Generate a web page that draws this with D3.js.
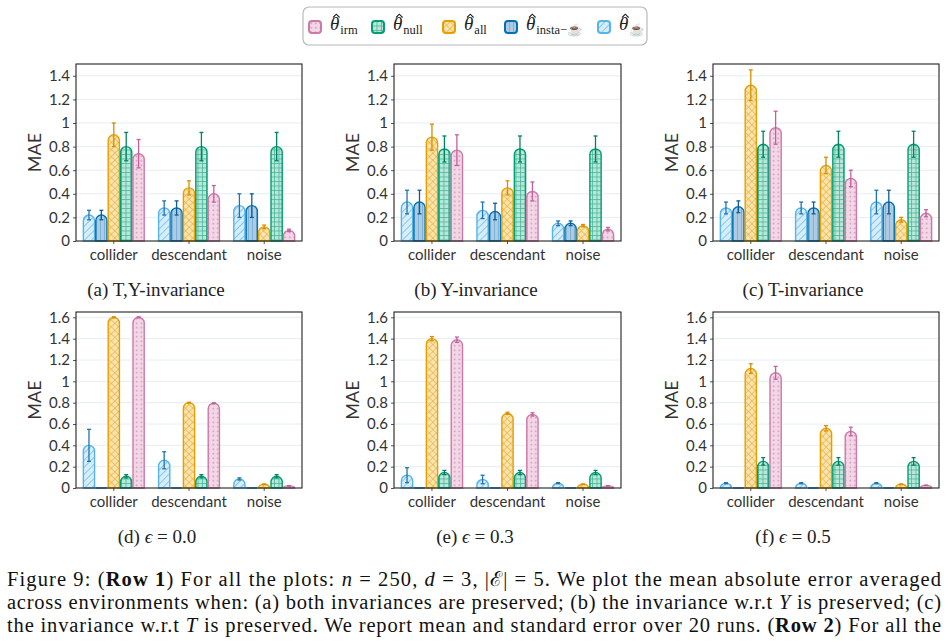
<!DOCTYPE html>
<html>
<head>
<meta charset="utf-8">
<script src="https://cdn.jsdelivr.net/npm/d3@7"></script>
<style>
  body { margin: 0; background: #fff; }
  svg { display: block; }
</style>
</head>
<body>
<svg id="fig" width="948" height="644"></svg>
<script>
// ---- data ----
const groups = ["collider", "descendant", "noise"];
// bar order inside a group (left to right)
const seriesKeys = ["cup", "insta", "all", "null", "irm"];
const legendKeys = ["irm", "null", "all", "insta", "cup"];
const seriesSub = ["\u2615", "insta\u2212\u2615", "all", "null", "irm"];

// rows follow seriesKeys, columns follow groups
const meanA = [[0.22, 0.28, 0.30], [0.22, 0.28, 0.30], [0.90, 0.45, 0.12], [0.80, 0.80, 0.80], [0.74, 0.40, 0.09]];
const errA  = [[0.04, 0.06, 0.10], [0.04, 0.06, 0.10], [0.10, 0.06, 0.015], [0.12, 0.12, 0.12], [0.12, 0.07, 0.01]];
const meanB = [[0.33, 0.26, 0.15], [0.33, 0.25, 0.15], [0.88, 0.45, 0.13], [0.78, 0.78, 0.78], [0.77, 0.42, 0.10]];
const errB  = [[0.10, 0.07, 0.02], [0.10, 0.07, 0.02], [0.11, 0.06, 0.01], [0.11, 0.11, 0.11], [0.13, 0.08, 0.015]];
const meanC = [[0.28, 0.28, 0.33], [0.29, 0.28, 0.33], [1.32, 0.64, 0.18], [0.82, 0.82, 0.82], [0.96, 0.53, 0.235]];
const errC  = [[0.05, 0.05, 0.10], [0.05, 0.05, 0.10], [0.13, 0.07, 0.02], [0.11, 0.11, 0.11], [0.14, 0.07, 0.03]];
const meanD = [[0.40, 0.26, 0.085], [0, 0, 0], [1.60, 0.80, 0.035], [0.11, 0.11, 0.11], [1.60, 0.795, 0.02]];
const errD  = [[0.15, 0.08, 0.01], [0, 0, 0], [0.005, 0.004, 0.002], [0.015, 0.015, 0.015], [0.005, 0.004, 0.002]];
const meanE = [[0.12, 0.08, 0.045], [0, 0, 0], [1.40, 0.70, 0.035], [0.145, 0.145, 0.145], [1.39, 0.69, 0.02]];
const errE  = [[0.07, 0.04, 0.005], [0, 0, 0], [0.02, 0.01, 0.002], [0.02, 0.02, 0.02], [0.025, 0.015, 0.002]];
const meanF = [[0.045, 0.045, 0.045], [0, 0, 0], [1.12, 0.56, 0.035], [0.25, 0.25, 0.25], [1.08, 0.53, 0.025]];
const errF  = [[0.005, 0.005, 0.005], [0, 0, 0], [0.045, 0.025, 0.002], [0.035, 0.035, 0.035], [0.06, 0.04, 0.002]];

const panelTitles = ["(a) T,Y-invariance", "(b) Y-invariance", "(c) T-invariance",
                     "(d) \u03f5 = 0.0", "(e) \u03f5 = 0.3", "(f) \u03f5 = 0.5"];
const rowMax = [1.5, 1.65];

// ---- styles ----
const strokeCol = {cup: "#56B4E9", insta: "#0072B2", all: "#E69F00", null: "#009E73", irm: "#CC79A7"};
const fillCol   = {cup: "#d7edfa", insta: "#aecbe3", all: "#fae4b5", null: "#bde5d9", irm: "#f2d8e7"};
const errCol    = {cup: "#1f74b4", insta: "#0a5f96", all: "#d68f00", null: "#00845f", irm: "#c2619a"};
const sansFont = "Lato, 'Open Sans', sans-serif";
const serifFont = "'Liberation Serif', 'DejaVu Serif', serif";

const svg = d3.select("#fig");
const defs = svg.append("defs");

function makePatterns() {
    seriesKeys.forEach(k => {
        let p = defs.append("pattern").attr("id", "pat-" + k)
            .attr("patternUnits", "userSpaceOnUse");
        let s = strokeCol[k];
        if (k === "cup") {
            p.attr("width", 5).attr("height", 5).attr("patternTransform", "rotate(45)");
            p.append("rect").attr("width", 5).attr("height", 5).attr("fill", fillCol[k]);
            p.append("line").attr("x1", 0.5).attr("x2", 0.5).attr("y1", 0).attr("y2", 5)
                .attr("stroke", s).attr("stroke-width", 0.8).attr("opacity", 0.8);
        } else if (k === "insta") {
            p.attr("width", 4).attr("height", 4);
            p.append("rect").attr("width", 4).attr("height", 4).attr("fill", fillCol[k]);
            p.append("line").attr("x1", 0.5).attr("x2", 0.5).attr("y1", 0).attr("y2", 4)
                .attr("stroke", s).attr("stroke-width", 0.6).attr("opacity", 0.45);
        } else if (k === "all") {
            p.attr("width", 5).attr("height", 5).attr("patternTransform", "rotate(45)");
            p.append("rect").attr("width", 5).attr("height", 5).attr("fill", fillCol[k]);
            p.append("path").attr("d", "M0.5,0V5M0,0.5H5")
                .attr("stroke", s).attr("stroke-width", 0.7).attr("opacity", 0.7);
        } else if (k === "null") {
            p.attr("width", 4.5).attr("height", 4.5);
            p.append("rect").attr("width", 4.5).attr("height", 4.5).attr("fill", fillCol[k]);
            p.append("path").attr("d", "M0.5,0V4.5M0,0.5H4.5")
                .attr("stroke", s).attr("stroke-width", 0.7).attr("opacity", 0.7);
        } else {
            p.attr("width", 4.5).attr("height", 4.5);
            p.append("rect").attr("width", 4.5).attr("height", 4.5).attr("fill", fillCol[k]);
            p.append("circle").attr("cx", 2.25).attr("cy", 2.25).attr("r", 0.9)
                .attr("fill", s).attr("opacity", 0.75);
        }
    });
}

// bar with a rounded top
function barPath(x, w, y0, yTop) {
    const h = y0 - yTop, r = w / 2;
    if (h <= 0.3) return `M${x},${y0}H${x + w}`;
    if (h >= r) return `M${x},${y0}V${yTop + r}A${r},${r} 0 0 1 ${x + w},${yTop + r}V${y0}Z`;
    return `M${x},${y0}A${r},${h} 0 0 1 ${x + w},${y0}Z`;
}

class BarPanel {
    constructor(left, top, right, bottom, yMax) {
        this.left = left; this.top = top;
        this.width = right - left; this.height = bottom - top;
        this.yMax = yMax;
    }

    draw(means, errs, title, titleX, titleY) {
        const g = svg.append("g").attr("transform", "translate(" + this.left + "," + this.top + ")");

        const x = d3.scaleBand().domain(groups).range([0, this.width])
            .paddingInner(0.175).paddingOuter(0.09);
        const xs = d3.scaleBand().domain(seriesKeys).range([0, x.bandwidth()]);
        const y = d3.scaleLinear().domain([0, this.yMax]).range([this.height, 0]);
        const nTicks = Math.floor(this.yMax / 0.2 + 1e-6);
        const ticks = d3.range(0, nTicks + 1).map(i => +(i * 0.2).toFixed(1));

        // gridlines
        g.append("g").selectAll("line").data(ticks.filter(d => d > 0)).join("line")
            .attr("x1", 0).attr("x2", this.width)
            .attr("y1", d => y(d)).attr("y2", d => y(d))
            .attr("stroke", "#e6edf5").attr("stroke-width", 1);

        // flatten
        let flat = [];
        seriesKeys.forEach((k, si) => groups.forEach((grp, gi) => {
            flat.push({key: k, group: grp, value: means[si][gi], err: errs[si][gi]});
        }));

        g.append("g").selectAll("path").data(flat).join("path")
            .attr("d", d => barPath(x(d.group) + xs(d.key) + 0.6, xs.bandwidth() - 1.2, y(0), y(d.value)))
            .attr("fill", d => "url(#pat-" + d.key + ")")
            .attr("stroke", d => strokeCol[d.key])
            .attr("stroke-width", 1.4);

        const eb = g.append("g").selectAll("g").data(flat.filter(d => d.err > 0)).join("g")
            .attr("stroke", d => errCol[d.key]).attr("stroke-width", 1.3);
        const cx = d => x(d.group) + xs(d.key) + xs.bandwidth() / 2;
        eb.append("line").attr("x1", cx).attr("x2", cx)
            .attr("y1", d => y(Math.max(0, d.value - d.err))).attr("y2", d => y(d.value + d.err));
        eb.append("line").attr("x1", d => cx(d) - 2).attr("x2", d => cx(d) + 2)
            .attr("y1", d => y(d.value + d.err)).attr("y2", d => y(d.value + d.err));
        eb.append("line").attr("x1", d => cx(d) - 2).attr("x2", d => cx(d) + 2)
            .attr("y1", d => y(Math.max(0, d.value - d.err))).attr("y2", d => y(Math.max(0, d.value - d.err)));

        // axes
        const yAxis = g.append("g")
            .call(d3.axisLeft(y).tickValues(ticks).tickSize(3).tickFormat(d3.format("~g")));
        const xAxis = g.append("g").attr("transform", "translate(0," + this.height + ")")
            .call(d3.axisBottom(x).tickSize(3).tickPadding(5));
        [yAxis, xAxis].forEach(a => {
            a.select(".domain").remove();
            a.selectAll(".tick line").attr("stroke", "#555");
            a.selectAll("text").style("font-family", sansFont).style("font-size", "15px").attr("fill", "#333");
        });

        g.append("rect").attr("width", this.width).attr("height", this.height)
            .attr("fill", "none").attr("stroke", "#222").attr("stroke-width", 1.1);

        g.append("text")
            .attr("transform", "translate(-41," + (this.height / 2) + ") rotate(-90)")
            .attr("text-anchor", "middle").attr("dy", "0.35em")
            .style("font-family", sansFont).style("font-size", "18px").attr("fill", "#333")
            .text("MAE");

        const t = svg.append("text").attr("x", titleX).attr("y", titleY).attr("text-anchor", "middle")
            .style("font-family", serifFont).style("font-size", "19px").attr("fill", "#222");
        if (title.indexOf("\u03f5") >= 0) {
            const parts = title.split("\u03f5");
            t.append("tspan").text(parts[0]);
            t.append("tspan").style("font-style", "italic").text("\u03f5");
            t.append("tspan").text(parts[1]);
        } else {
            t.text(title);
        }
    }
}

makePatterns();

const lefts = [76, 394, 713], rights = [302, 621, 939];
const tops = [64, 312], bottoms = [241, 488];
const titleXs = [156, 476, 803, 157, 475, 793], titleYs = [296, 543];
const allMeans = [meanA, meanB, meanC, meanD, meanE, meanF];
const allErrs = [errA, errB, errC, errD, errE, errF];

allMeans.forEach((m, i) => {
    const r = Math.floor(i / 3), c = i % 3;
    new BarPanel(lefts[c], tops[r], rights[c], bottoms[r], rowMax[r])
        .draw(m, allErrs[i], panelTitles[i], titleXs[i], titleYs[r]);
});

// ---- legend ----
const legend = svg.append("g");
legend.append("rect").attr("x", 303).attr("y", 7).attr("width", 344).attr("height", 38)
    .attr("rx", 6).attr("fill", "#fff").attr("stroke", "#b8b8c0").attr("stroke-width", 1.2);
const legendX = [309, 372, 443, 505, 598];
legendKeys.forEach((k, i) => {
    const item = legend.append("g").attr("transform", "translate(" + legendX[i] + ",21)");
    item.append("rect").attr("width", 12).attr("height", 12).attr("rx", 3)
        .attr("fill", "url(#pat-" + k + ")").attr("stroke", strokeCol[k]).attr("stroke-width", 2);
    // hat over theta
    item.append("path").attr("d", "M24,-3.5L27.3,-6.8L30.6,-3.5")
        .attr("fill", "none").attr("stroke", "#222").attr("stroke-width", 1.1);
    const t = item.append("text").attr("x", 21).attr("y", 9)
        .style("font-family", serifFont).attr("fill", "#222");
    t.append("tspan").style("font-style", "italic").style("font-size", "19px").text("\u03b8");
    t.append("tspan").attr("dy", 4).attr("dx", 1).style("font-size", "12.5px")
        .text(seriesSub[seriesKeys.indexOf(k)]);
});

// ---- figure caption ----
const captionLines = [
    [["Figure 9: (", ""], ["Row 1", "b"], [") For all the plots: ", ""], ["n", "i"], [" = 250, ", ""], ["d", "i"],
     [" = 3, |\u2130| = 5. We plot the mean absolute error averaged", ""]],
    [["across environments when: (a) both invariances are preserved; (b) the invariance w.r.t ", ""], ["Y", "i"],
     [" is preserved; (c)", ""]],
    [["the invariance w.r.t ", ""], ["T", "i"], [" is preserved. We report mean and standard error over 20 runs. (", ""],
     ["Row 2", "b"], [") For all the", ""]]
];
const captionY = [586, 609, 632];
captionLines.forEach((parts, i) => {
    const t = svg.append("text").attr("x", 7).attr("y", captionY[i])
        .attr("textLength", 934).attr("lengthAdjust", "spacing")
        .style("font-family", serifFont).style("font-size", "20.5px").attr("fill", "#111");
    parts.forEach(p => {
        t.append("tspan").text(p[0])
            .style("font-weight", p[1] === "b" ? "bold" : "normal")
            .style("font-style", p[1] === "i" ? "italic" : "normal");
    });
});
</script>
</body>
</html>
